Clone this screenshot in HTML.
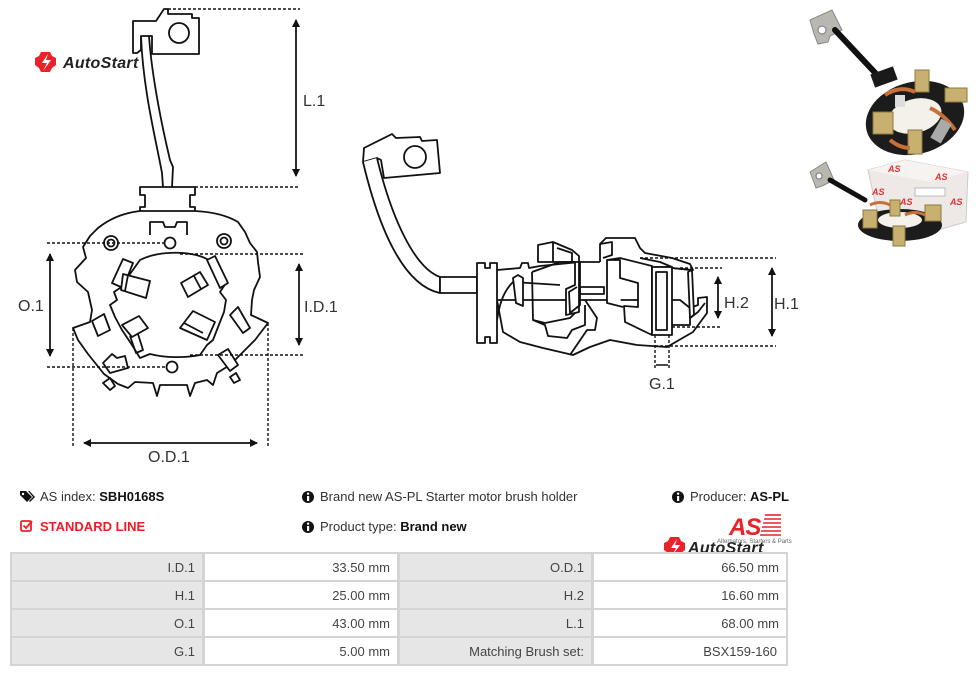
<!DOCTYPE html>
<html><head><meta charset="utf-8">
<style>
html,body{margin:0;padding:0;background:#fff;}
body{width:976px;height:676px;position:relative;overflow:hidden;font-family:"Liberation Sans",Arial,sans-serif;color:#333;}
.t{position:absolute;font-size:13px;white-space:nowrap;color:#333;line-height:16px;}
.t b{color:#111;}
.cell{position:absolute;height:26px;line-height:27px;font-size:13px;color:#444;text-align:right;box-sizing:border-box;padding-right:7px;}
.g{background:#e6e6e6;}
</style></head><body>
<svg width="976" height="676" style="position:absolute;left:0;top:0" xmlns="http://www.w3.org/2000/svg">
<defs>
<marker id="ah" markerWidth="8" markerHeight="8" refX="7" refY="4" orient="auto" markerUnits="userSpaceOnUse"><path d="M0 0 L8 4 L0 8 Z" fill="#111"/></marker>
</defs>
<g fill="#fff" stroke="#111" stroke-width="1.8" stroke-linejoin="round">
<!-- ===== LEFT DRAWING ===== -->
<path d="M133 21 L156 21 L164 9 L168 9 L168 14 L192 14 L192 18 L199 18 L199 54 L152 54 L152 36 L141 36 L141 50 L137 53 L133 53 Z"/>
<circle cx="179" cy="33" r="10"/>
<path d="M141 36 C 143 90, 156 140, 162 173 L163 187" fill="none"/>
<path d="M149 36 C 152 80, 164 135, 170 160 L173 167 L172 187" fill="none"/>
<path d="M140 187 L195 187 L195 195 L190 195 L190 207 L195 207 L195 212 L140 212 L140 207 L145 207 L145 195 L140 195 Z"/>
<!-- body -->
<path d="M140 211 L195 211 C 215 212, 228 216, 238 222 L245 232 L250 243 L257 252 L258 262 L260 277 L254 290 L252 300 L251 315 L268 323 L255 340 L243 352 L230 365 L217 373 L213 385 L207 380 L195 383 L190 396 L187 385 L160 385 L157 396 L153 383 L135 382 L128 388 L118 384 L104 374 L88 354 L78 340 L73 328 L90 322 L92 310 L88 292 L77 282 L75 270 L86 258 L83 247 L90 236 L98 228 C 108 220, 122 213, 140 211 Z"/>
<path d="M150 235 L150 222 L163 222 L165 227 L175 227 L177 222 L187 222 L187 235" fill="none"/>
<circle cx="111" cy="243" r="7"/><circle cx="111" cy="243" r="3.5"/>
<circle cx="224" cy="241" r="7"/><circle cx="224" cy="241" r="3.5"/>
<circle cx="170" cy="243" r="5.5"/>
<circle cx="172" cy="367" r="5.5"/>
<!-- inner region -->
<path d="M140 260 C 160 250, 195 250, 212 262 L226 283 L220 292 L226 300 L224 312 L220 322 L213 340 L207 345 L200 355 C 185 358, 165 358, 150 354 L140 358 L132 345 L122 330 L115 317 L110 305 L117 300 L114 292 L120 288 Z"/>
<!-- brush boxes -->
<path d="M112 283 L123 259 L133 263 L123 288 Z"/>
<path d="M123 274 L150 281 L146 298 L121 290 Z"/><path d="M128 275 L125 291" fill="none"/>
<path d="M207 260 L215 256 L228 283 L220 288 Z"/>
<path d="M181 283 L200 272 L208 285 L188 297 Z"/><path d="M194 276 L201 289" fill="none"/>
<path d="M180 328 L193 311 L215 322 L207 340 Z"/><path d="M184 323 L203 333" fill="none"/>
<path d="M122 325 L139 316 L148 328 L132 337 Z"/><path d="M130 336 L136 353 L143 350 L138 334" fill="none"/>
<!-- side tabs -->
<path d="M92 321 L104 314 L110 330 L98 336 Z"/>
<path d="M230 315 L238 307 L250 328 L243 333 Z"/>
<path d="M103 363 L112 354 L117 358 L125 356 L128 368 L110 373 Z"/>
<path d="M218 355 L228 349 L238 365 L230 371 Z"/>
<path d="M103 383 L110 378 L115 386 L110 390 Z" fill="none"/>
<path d="M230 377 L236 373 L240 380 L234 383 Z" fill="none"/>
</g>
<!-- dims left -->
<g stroke="#111" stroke-width="1.4" stroke-dasharray="3,2" fill="none">
<line x1="168" y1="9" x2="300" y2="9"/>
<line x1="195" y1="187" x2="300" y2="187"/>
<line x1="47" y1="243" x2="165" y2="243"/>
<line x1="47" y1="367" x2="167" y2="367"/>
<line x1="180" y1="254" x2="305" y2="254"/>
<line x1="190" y1="355" x2="305" y2="355"/>
<line x1="73" y1="328" x2="73" y2="448"/>
<line x1="268" y1="323" x2="268" y2="448"/>
</g>
<g stroke="#111" stroke-width="1.5" fill="none">
<line x1="296" y1="20" x2="296" y2="176" marker-end="url(#ah)"/>
<line x1="296" y1="176" x2="296" y2="20" marker-end="url(#ah)"/>
<line x1="50" y1="254" x2="50" y2="356" marker-end="url(#ah)"/>
<line x1="50" y1="356" x2="50" y2="254" marker-end="url(#ah)"/>
<line x1="299" y1="264" x2="299" y2="345" marker-end="url(#ah)"/>
<line x1="299" y1="345" x2="299" y2="264" marker-end="url(#ah)"/>
<line x1="84" y1="443" x2="257" y2="443" marker-end="url(#ah)"/>
<line x1="257" y1="443" x2="84" y2="443" marker-end="url(#ah)"/>
</g>
<g font-family="Liberation Sans, sans-serif" font-size="16" fill="#333">
<text x="303" y="106">L.1</text>
<text x="18" y="311">O.1</text>
<text x="304" y="312">I.D.1</text>
<text x="148" y="462">O.D.1</text>
</g>

<!-- ===== RIGHT DRAWING ===== -->
<g fill="#fff" stroke="#111" stroke-width="1.8" stroke-linejoin="round">
<path d="M364 148 L392 134 L396 138 L420 137 L422 141 L437 140 L440 173 L384 178 L381 160 L377 158 L363 162 Z"/>
<circle cx="415" cy="157" r="11"/>
<path d="M363 162 C 378 225, 402 285, 440 293 L440 277 C 415 268, 392 220, 377 158" />
<rect x="440" y="277" width="37" height="16"/>
<!-- base blob -->
<path d="M497 300 L503 332 L520 342 L543 348 L573 355 L590 347 L610 340 L637 345 L667 347 L693 332 L707 313 L707 297 L698 298 L698 305 L690 308 L680 300 L620 300 L560 300 Z"/>
<path d="M570 355 L587 330 L595 330 L597 318 L585 300" fill="none"/>
<path d="M497 320 C 500 300, 505 290, 513 282 L560 285" fill="none"/>
<!-- top connecting line -->
<path d="M497 270 L520 268 L522 263 L528 263 L529 268 L540 266 L580 262 L600 262" fill="none"/>
<!-- flange -->
<path d="M477 263 L485 263 L485 268 L490 268 L490 263 L497 263 L497 343 L490 343 L490 337 L485 337 L485 343 L477 343 Z"/>
<!-- left clip -->
<path d="M513 278 L518 275 L523 278 L523 306 L516 303 Z"/>
<!-- rod -->
<rect x="580" y="287" width="24" height="7"/>
<!-- left block -->
<path d="M538 262 L538 245 L553 242 L572 250 L579 256 L579 312 L566 315 L566 289 L575 285 L575 262 L558 262 Z"/>
<path d="M553 242 L553 262 M557 248 L572 253 L572 262" fill="none"/>
<path d="M532 272 L560 262 L580 262 L580 305 L570 313 L569 292 L577 287 M532 272 L533 320 L545 323 L570 318 L575 313" fill="none"/>
<path d="M533 320 L545 325 L548 336 L567 338 L572 330 L585 325 L585 305" fill="none"/>
<!-- right block -->
<path d="M600 262 L600 244 L606 238 L635 238 L640 248 L645 253 L672 258 L690 264 L693 270 L672 268"/>
<path d="M600 244 L612 242 L612 255 L603 258" fill="none"/>
<path d="M607 260 L620 258 L652 266 L652 335 L625 322 L624 306 L638 307 L638 283 L620 278 L620 260 L607 260 L607 303 L623 307" />
<path d="M640 258 L660 262 L672 267 L652 267" fill="none"/>
<rect x="652" y="267" width="20" height="68"/>
<rect x="656" y="272" width="11" height="58"/>
<path d="M672 268 L690 270 L690 325 L672 325" fill="none"/>
<path d="M688 272 L692 270 L694 315 L690 318 Z"/>
<path d="M690 318 L698 312 L705 303" fill="none"/>
</g>
<g stroke="#111" stroke-width="1.4" stroke-dasharray="3,2" fill="none">
<line x1="640" y1="258" x2="776" y2="258"/>
<line x1="655" y1="346" x2="776" y2="346"/>
<line x1="680" y1="268" x2="722" y2="268"/>
<line x1="672" y1="327" x2="722" y2="327"/>
<line x1="655" y1="335" x2="655" y2="368"/>
<line x1="669" y1="335" x2="669" y2="368"/>
</g>
<g stroke="#111" stroke-width="1.5" fill="none">
<line x1="772" y1="268" x2="772" y2="336" marker-end="url(#ah)"/>
<line x1="772" y1="336" x2="772" y2="268" marker-end="url(#ah)"/>
<line x1="718" y1="277" x2="718" y2="318" marker-end="url(#ah)"/>
<line x1="718" y1="318" x2="718" y2="277" marker-end="url(#ah)"/>
<line x1="656" y1="365" x2="668" y2="365"/>
</g>
<g font-family="Liberation Sans, sans-serif" font-size="16" fill="#333">
<text x="724" y="308">H.2</text>
<text x="774" y="309">H.1</text>
<text x="649" y="389">G.1</text>
</g>

<!-- ===== PHOTOS ===== -->
<g>
<polygon points="810,20 832,10 842,30 830,36 828,42 818,44 814,34" fill="#b8b8b0" stroke="#888" stroke-width="1"/>
<circle cx="822" cy="30" r="4" fill="#fff" stroke="#777"/>
<path d="M835 30 L880 78" stroke="#111" stroke-width="6" stroke-linecap="round"/>
<rect x="872" y="70" width="24" height="14" fill="#1a1a1a" transform="rotate(-20 884 77)"/>
<ellipse cx="915" cy="118" rx="50" ry="36" fill="#1c1c1c" transform="rotate(-15 915 118)"/>
<ellipse cx="915" cy="116" rx="27" ry="17" fill="#f4f0ea" transform="rotate(-15 915 116)"/>
<rect x="915" y="70" width="14" height="22" fill="#c8b070" stroke="#8a7a40"/>
<rect x="945" y="88" width="22" height="14" fill="#c8b070" stroke="#8a7a40"/>
<rect x="873" y="112" width="20" height="22" fill="#c8b070" stroke="#8a7a40"/>
<rect x="908" y="130" width="14" height="24" fill="#c8b070" stroke="#8a7a40"/>
<path d="M885 95 Q 900 85 915 92 M930 108 Q 945 115 955 130 M890 140 Q 900 148 910 148" stroke="#c8703a" stroke-width="4" fill="none"/>
<rect x="935" y="120" width="12" height="22" fill="#aaa" transform="rotate(30 941 131)"/>
<rect x="895" y="95" width="10" height="12" fill="#ddd"/>
<!-- bottom photo -->
<polygon points="810,172 826,162 834,180 822,186 816,188" fill="#b8b8b0" stroke="#888" stroke-width="1"/>
<circle cx="819" cy="176" r="3" fill="#fff" stroke="#777"/>
<path d="M830 180 L865 200" stroke="#111" stroke-width="5" stroke-linecap="round"/>
<polygon points="868,170 905,160 968,172 966,222 920,235 880,225" fill="#eee9e6" stroke="#ccc"/>
<polygon points="868,170 905,160 968,172 930,182" fill="#f6f3f1"/>
<g fill="#e03030" font-family="Liberation Sans, sans-serif" font-weight="bold" font-style="italic" font-size="9">
<text x="888" y="172">AS</text><text x="935" y="180">AS</text><text x="900" y="205">AS</text><text x="950" y="205">AS</text><text x="928" y="222">AS</text><text x="872" y="195">AS</text>
</g>
<rect x="915" y="188" width="30" height="8" fill="#fff" stroke="#bbb"/>
<ellipse cx="900" cy="225" rx="42" ry="16" fill="#1c1c1c"/>
<ellipse cx="900" cy="220" rx="22" ry="8" fill="#f4f0ea"/>
<rect x="863" y="210" width="14" height="18" fill="#c8b070" stroke="#8a7a40"/>
<rect x="893" y="226" width="12" height="20" fill="#c8b070" stroke="#8a7a40"/>
<rect x="925" y="205" width="16" height="16" fill="#c8b070" stroke="#8a7a40"/>
<rect x="890" y="200" width="10" height="16" fill="#c8b070" stroke="#8a7a40"/>
<path d="M870 205 Q 880 200 890 205 M905 215 Q 915 210 925 215" stroke="#c8703a" stroke-width="3" fill="none"/>
</g>

<!-- ===== LOGOS ===== -->
<g>
<polygon points="41,52 50,52 52,56 56,58 56,65 52,68 50,72 41,72 39,68 35,65 35,58 39,56" fill="#e8232a"/>
<path d="M48 54 L42 63 L47 63 L43 71 L51 60 L46 60 Z" fill="#fff"/>
</g>
<text x="63" y="68" font-family="Liberation Sans, sans-serif" font-weight="bold" font-style="italic" font-size="16" fill="#222" letter-spacing="0.3">AutoStart</text>

<g>
<polygon points="670,537 679,537 681,541 685,543 685,550 681,553 679,557 670,557 668,553 664,550 664,543 668,541" fill="#e8232a"/>
<path d="M677 539 L671 548 L676 548 L672 556 L680 545 L675 545 Z" fill="#fff"/>
</g>
<text x="688" y="553" font-family="Liberation Sans, sans-serif" font-weight="bold" font-style="italic" font-size="16" fill="#222" letter-spacing="0.3">AutoStart</text>
<text x="729" y="535" font-family="Liberation Sans, sans-serif" font-weight="bold" font-style="italic" font-size="24" fill="#e8232a" letter-spacing="-1">AS</text>
<g stroke="#e8232a" stroke-width="1.6">
<line x1="765" y1="515" x2="781" y2="515"/><line x1="764" y1="519" x2="781" y2="519"/><line x1="763" y1="523" x2="781" y2="523"/><line x1="762" y1="527" x2="781" y2="527"/><line x1="761" y1="531" x2="781" y2="531"/><line x1="760" y1="535" x2="781" y2="535"/>
</g>
<text x="717" y="543" font-family="Liberation Sans, sans-serif" font-size="6" fill="#666">Alternators, Starters &amp; Parts</text>

<!-- icons -->
<g fill="#111">
<path d="M20 491 L26 491 L32 497 L27 502 L20 495 Z"/>
<circle cx="23" cy="494" r="1.2" fill="#fff"/>
<path d="M28 491 L29.5 491 L35 497 L30 502 L29 501 L33 497 Z"/>
</g>
<g fill="none" stroke="#e8232a" stroke-width="1.8">
<rect x="21" y="521" width="10" height="10" rx="1.5"/>
<path d="M23.5 525.5 L26 528 L32 521"/>
</g>
<g>
<circle cx="308" cy="497" r="6" fill="#111"/><rect x="307" y="496" width="2.2" height="5" fill="#fff"/><circle cx="308.1" cy="493.7" r="1.2" fill="#fff"/>
<circle cx="308" cy="527" r="6" fill="#111"/><rect x="307" y="526" width="2.2" height="5" fill="#fff"/><circle cx="308.1" cy="523.7" r="1.2" fill="#fff"/>
<circle cx="678" cy="497" r="6" fill="#111"/><rect x="677" y="496" width="2.2" height="5" fill="#fff"/><circle cx="678.1" cy="493.7" r="1.2" fill="#fff"/>
</g>
</svg>

<div class="t" style="left:40px;top:489px;">AS index: <b>SBH0168S</b></div>
<div class="t" style="left:40px;top:519px;color:#ee1c25;font-weight:bold;">STANDARD LINE</div>
<div class="t" style="left:320px;top:489px;">Brand new AS-PL Starter motor brush holder</div>
<div class="t" style="left:320px;top:519px;">Product type: <b>Brand new</b></div>
<div class="t" style="left:690px;top:489px;">Producer: <b>AS-PL</b></div>

<!-- table -->
<div style="position:absolute;left:10px;top:552px;width:778px;height:114px;background:#d4d4d4;"></div>
<div class="cell g" style="left:12px;top:554px;width:190px;">I.D.1</div>
<div class="cell" style="left:205px;top:554px;width:192px;background:#fff;">33.50 mm</div>
<div class="cell g" style="left:400px;top:554px;width:191px;">O.D.1</div>
<div class="cell" style="left:594px;top:554px;width:192px;background:#fff;">66.50 mm</div>

<div class="cell g" style="left:12px;top:582px;width:190px;">H.1</div>
<div class="cell" style="left:205px;top:582px;width:192px;background:#fff;">25.00 mm</div>
<div class="cell g" style="left:400px;top:582px;width:191px;">H.2</div>
<div class="cell" style="left:594px;top:582px;width:192px;background:#fff;">16.60 mm</div>

<div class="cell g" style="left:12px;top:610px;width:190px;">O.1</div>
<div class="cell" style="left:205px;top:610px;width:192px;background:#fff;">43.00 mm</div>
<div class="cell g" style="left:400px;top:610px;width:191px;">L.1</div>
<div class="cell" style="left:594px;top:610px;width:192px;background:#fff;">68.00 mm</div>

<div class="cell g" style="left:12px;top:638px;width:190px;">G.1</div>
<div class="cell" style="left:205px;top:638px;width:192px;background:#fff;">5.00 mm</div>
<div class="cell g" style="left:400px;top:638px;width:191px;">Matching Brush set:</div>
<div class="cell" style="left:594px;top:638px;width:192px;background:#fff;padding-right:9px;">BSX159-160</div>
</body></html>
